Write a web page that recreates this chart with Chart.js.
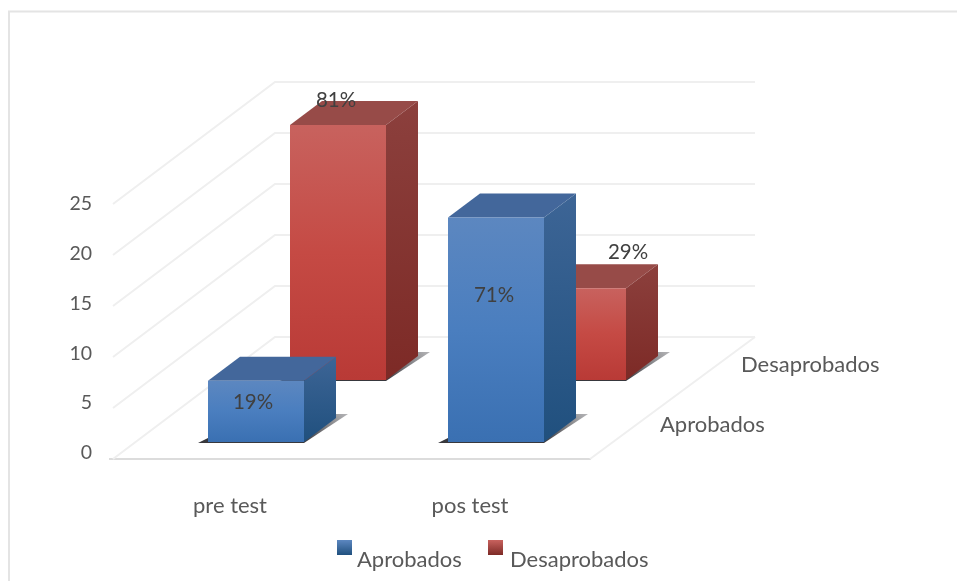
<!DOCTYPE html>
<html>
<head>
<meta charset="utf-8">
<title>pre test / pos test</title>
<script src="https://cdn.jsdelivr.net/npm/chart.js@4/dist/chart.umd.js"></script>
<style>
  html, body { margin: 0; padding: 0; background: #fff; }
  #wrap { width: 957px; height: 581px; }
</style>
</head>
<body>
<div id="wrap"><canvas id="chart" width="957" height="581"></canvas></div>
<script>
// Values
const categories = ['pre test', 'pos test'];
const aprobados = [6, 22];
const desaprobados = [25, 9];
const aprobadosLabels = ['19%', '71%'];
const desaprobadosLabels = ['81%', '29%'];

const FONT = 'Lato, Carlito, sans-serif';
const TEXT = '#595959';

/********************************************
 * Fake 3D geometry (offsets from the 2D bars) *
 ********************************************/
const floorDepth = { dx: 165, dy: -122 };
const barDepth = { dx: 32, dy: -24 };
const rows = [
  { dx: 26, dy: -17, front: ['#5c87c0', '#4a7ebf', '#3a70b2'], top: '#43679b', side: ['#3d6596', '#20507e'] },
  { dx: 108, dy: -79, front: ['#c8625e', '#c54a44', '#b93a36'], top: '#974b48', side: ['#8c403d', '#7d2a26'] }
];
// where each percentage sits, relative to the front face centre and top
const labelOffsets = [
  [{ x: -3, y: 22 }, { x: -2, y: 78 }],
  [{ x: -2, y: -25 }, { x: 50, y: -36 }]
];

function poly(ctx, pts, fill) {
  ctx.beginPath();
  ctx.moveTo(pts[0][0], pts[0][1]);
  for (let i = 1; i < pts.length; i++) ctx.lineTo(pts[i][0], pts[i][1]);
  ctx.closePath();
  ctx.fillStyle = fill;
  ctx.fill();
}

function vGradient(ctx, y0, y1, stops) {
  const g = ctx.createLinearGradient(0, y0, 0, y1);
  stops.forEach((c, i) => g.addColorStop(i / (stops.length - 1), c));
  return g;
}

// walls, floor and outer frame
const wallsPlugin = {
  id: 'walls',
  beforeDatasetsDraw(chart) {
    const ctx = chart.ctx;
    const { left, right, bottom } = chart.chartArea;
    const y = chart.scales.y;
    ctx.save();
    ctx.strokeStyle = '#e4e4e4';
    ctx.lineWidth = 2;
    ctx.beginPath();
    ctx.moveTo(9, 581); ctx.lineTo(9, 11.5); ctx.lineTo(957, 11.5);
    ctx.stroke();

    ctx.strokeStyle = '#efefef';
    y.ticks.forEach(t => {
      const py = y.getPixelForValue(t.value);
      ctx.beginPath();
      ctx.moveTo(left + 3, py);
      ctx.lineTo(left + floorDepth.dx, py + floorDepth.dy);
      ctx.lineTo(right + floorDepth.dx, py + floorDepth.dy);
      ctx.stroke();
    });
    ctx.beginPath();
    ctx.moveTo(right, bottom);
    ctx.lineTo(right + floorDepth.dx, bottom + floorDepth.dy);
    ctx.stroke();
    ctx.restore();
  }
};

// draws the boxes from the bar elements the library placed
const boxesPlugin = {
  id: 'boxes',
  afterDatasetsDraw(chart) {
    const ctx = chart.ctx;
    ctx.save();
    [1, 0].forEach(ds => {
      const row = rows[ds];
      chart.getDatasetMeta(ds).data.forEach(bar => {
        const x0 = bar.x - bar.width / 2 + row.dx;
        const x1 = bar.x + bar.width / 2 + row.dx;
        const yTop = bar.y + row.dy;
        const yBot = bar.base + row.dy;
        const d = barDepth;

        // shadow on the floor
        const sh = ctx.createLinearGradient(x1, yBot, x1 + d.dx + 12, yBot + d.dy - 4);
        sh.addColorStop(0, 'rgba(45,45,50,0.95)');
        sh.addColorStop(1, 'rgba(90,90,95,0.45)');
        poly(ctx, [[x0 - 10, yBot + 1], [x1, yBot + 1], [x1 + d.dx + 12, yBot + d.dy - 4], [x1 + d.dx, yBot + d.dy - 4], [x0, yBot - 4]], sh);

        poly(ctx, [[x0, yTop], [x1, yTop], [x1 + d.dx, yTop + d.dy], [x0 + d.dx, yTop + d.dy]], row.top);
        poly(ctx, [[x1, yTop], [x1 + d.dx, yTop + d.dy], [x1 + d.dx, yBot + d.dy], [x1, yBot]],
          vGradient(ctx, yTop + d.dy, yBot, row.side));
        poly(ctx, [[x0, yTop], [x1, yTop], [x1, yBot], [x0, yBot]],
          vGradient(ctx, yTop, yBot, row.front));
      });
    });
    ctx.restore();
  },
  afterDraw(chart) {
    const ctx = chart.ctx;
    const y = chart.scales.y;
    const { right, bottom } = chart.chartArea;
    ctx.save();
    ctx.textBaseline = 'middle';

    // percentages
    ctx.font = '20.5px ' + FONT;
    ctx.textAlign = 'center';
    ctx.fillStyle = '#404040';
    [aprobadosLabels, desaprobadosLabels].forEach((labels, ds) => {
      chart.getDatasetMeta(ds).data.forEach((bar, i) => {
        const off = labelOffsets[ds][i];
        ctx.fillText(labels[i], bar.x + rows[ds].dx + off.x, bar.y + rows[ds].dy + off.y);
      });
    });

    // value axis labels sit a little above their wall lines
    ctx.font = '19.5px ' + FONT;
    ctx.textAlign = 'right';
    ctx.fillStyle = TEXT;
    y.ticks.forEach(t => {
      const lift = 6 - t.value * 0.24;
      ctx.fillText(String(t.value), 92, y.getPixelForValue(t.value) - lift);
    });

    // depth axis labels
    ctx.font = '22px ' + FONT;
    ctx.textAlign = 'left';
    ctx.fillText(chart.data.datasets[0].label, right + 70, bottom - 34);
    ctx.fillText(chart.data.datasets[1].label, right + 151, bottom - 94);

    // legend: small box up and to the left of its text
    [[337, 357], [488, 510]].forEach((pos, ds) => {
      const c = rows[ds];
      ctx.fillStyle = vGradient(ctx, 540, 555, [c.front[0], c.side[1]]);
      ctx.fillRect(pos[0], 540, 15, 15);
      ctx.fillStyle = TEXT;
      ctx.fillText(chart.data.datasets[ds].label, pos[1], 560);
    });
    ctx.restore();
  }
};

new Chart(document.getElementById('chart'), {
  type: 'bar',
  data: {
    labels: categories,
    datasets: [
      { label: 'Aprobados', data: aprobados, grouped: false, barThickness: 96, backgroundColor: 'transparent', borderWidth: 0 },
      { label: 'Desaprobados', data: desaprobados, grouped: false, barThickness: 96, backgroundColor: 'transparent', borderWidth: 0 }
    ]
  },
  plugins: [wallsPlugin, boxesPlugin],
  options: {
    responsive: false,
    animation: false,
    layout: { padding: { left: 110, right: 367, top: 204, bottom: 62 } },
    plugins: { legend: { display: false }, tooltip: { enabled: false }, title: { display: false } },
    scales: {
      x: {
        grid: { display: false },
        border: { color: '#dcdcdc', width: 2 },
        afterFit(scale) { scale.height = 60; },
        ticks: { padding: 26, color: TEXT, font: { family: FONT, size: 22 }, maxRotation: 0 }
      },
      y: {
        min: 0,
        max: 25,
        afterFit(scale) { scale.width = 0; },
        grid: { display: false },
        border: { display: false },
        ticks: { stepSize: 5, display: false }
      }
    }
  }
});
</script>
</body>
</html>
